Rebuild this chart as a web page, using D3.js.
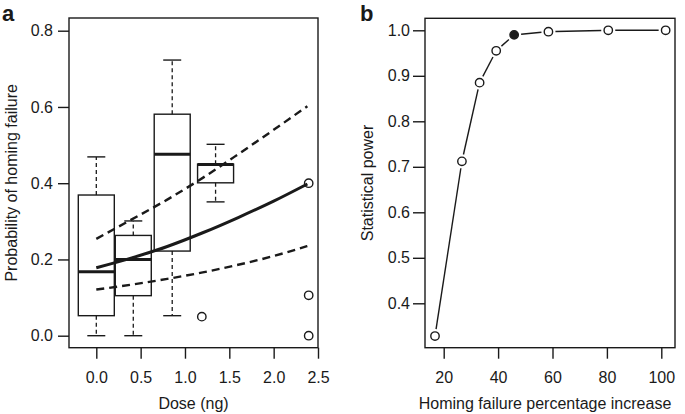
<!DOCTYPE html>
<html><head><meta charset="utf-8">
<script src="https://cdn.jsdelivr.net/npm/d3@7"></script>
<style>
html,body{margin:0;padding:0;background:#fff;}
svg text{font-family:"Liberation Sans",Arial,Helvetica,sans-serif;fill:#1a1a1a;}
</style></head>
<body>
<svg id="c" width="685" height="414"></svg>
<script>
// ---------- Panel a data ----------
const boxDose = [0, 0.417, 0.856, 1.345];
const whiskerLow = [0, 0, 0.0525, 0.351];
const q1 = [0.0525, 0.105, 0.222, 0.401];
const median = [0.168, 0.2, 0.476, 0.449];
const q3 = [0.369, 0.263, 0.581, 0.450];
const whiskerHigh = [0.469, 0.301, 0.723, 0.502];
const outlierDose = [1.19, 2.395, 2.395, 2.395];
const outlierValue = [0.05, 0.40, 0.106, 0.0];
const fitDose = [0, 0.4, 0.8, 1.2, 1.6, 2.0, 2.38];
const fitValue = [0.178, 0.204, 0.234, 0.27, 0.31, 0.353, 0.398];
const upperValue = [0.254, 0.305, 0.357, 0.414, 0.476, 0.54, 0.602];
const lowerValue = [0.121, 0.134, 0.149, 0.166, 0.186, 0.209, 0.235];
const doseTicks = [0, 0.5, 1.0, 1.5, 2.0, 2.5];
const probTicks = [0, 0.2, 0.4, 0.6, 0.8];

// ---------- Panel b data ----------
const percentIncrease = [16.8, 26.7, 33.2, 39.3, 45.9, 58.5, 80.5, 101.6];
const power = [0.328, 0.712, 0.885, 0.955, 0.990, 0.997, 1.0, 1.0];
const highlighted = [false, false, false, false, true, false, false, false];
const pctTicks = [20, 40, 60, 80, 100];
const powerTicks = [0.4, 0.5, 0.6, 0.7, 0.8, 0.9, 1.0];

const svg = d3.select("#c");
const ink = "#1a1a1a";
const FS = 16;

// ---------- Panel a ----------
const A = {l:69, r:318, t:18, b:347.7};
const xA = d3.scaleLinear().domain([0, 2.5]).range([96.3, 318]);
const yA = d3.scaleLinear().domain([0, 0.8]).range([335.7, 30.7]);
const gA = svg.append("g");

gA.append("rect").attr("x",A.l).attr("y",A.t).attr("width",A.r-A.l).attr("height",A.b-A.t)
  .attr("fill","none").attr("stroke",ink).attr("stroke-width",1.4);

const yAxA = gA.append("g").attr("transform",`translate(${A.l},0)`)
  .call(d3.axisLeft(yA).tickValues(probTicks).tickFormat(d3.format(".1f")).tickSize(11).tickPadding(5));
const xAxA = gA.append("g").attr("transform",`translate(0,${A.b})`)
  .call(d3.axisBottom(xA).tickValues(doseTicks).tickFormat(d3.format(".1f")).tickSize(11).tickPadding(12.6));
[yAxA, xAxA].forEach(ax=>{
  ax.select(".domain").remove();
  ax.selectAll("line").attr("stroke",ink).attr("stroke-width",1.4);
  ax.selectAll("text").attr("font-size",FS).attr("fill",ink).style("font-family",'"Liberation Sans",Arial,sans-serif');
});

const bw = 0.406; // box width in dose units
const boxes = boxDose.map((d,i)=>({d, lo:whiskerLow[i], q1:q1[i], med:median[i], q3:q3[i], hi:whiskerHigh[i]}));
const bg = gA.append("g");
boxes.forEach(b=>{
  const x0 = xA(b.d - bw/2), x1 = xA(b.d + bw/2), xc = xA(b.d);
  const cw = (x1-x0)/4;
  // whiskers
  bg.append("line").attr("x1",xc).attr("x2",xc).attr("y1",yA(b.q3)).attr("y2",yA(b.hi))
    .attr("stroke",ink).attr("stroke-width",1.3).attr("stroke-dasharray","4,3");
  bg.append("line").attr("x1",xc).attr("x2",xc).attr("y1",yA(b.q1)).attr("y2",yA(b.lo))
    .attr("stroke",ink).attr("stroke-width",1.3).attr("stroke-dasharray","4,3");
  bg.append("line").attr("x1",xc-cw).attr("x2",xc+cw).attr("y1",yA(b.hi)).attr("y2",yA(b.hi))
    .attr("stroke",ink).attr("stroke-width",1.4);
  bg.append("line").attr("x1",xc-cw).attr("x2",xc+cw).attr("y1",yA(b.lo)).attr("y2",yA(b.lo))
    .attr("stroke",ink).attr("stroke-width",1.4);
  bg.append("rect").attr("x",x0).attr("y",yA(b.q3)).attr("width",x1-x0).attr("height",yA(b.q1)-yA(b.q3))
    .attr("fill","none").attr("stroke",ink).attr("stroke-width",1.4);
  bg.append("line").attr("x1",x0).attr("x2",x1).attr("y1",yA(b.med)).attr("y2",yA(b.med))
    .attr("stroke",ink).attr("stroke-width",3);
});

gA.selectAll("circle.out").data(outlierDose.map((d,i)=>({d,v:outlierValue[i]}))).join("circle")
  .attr("class","out").attr("cx",p=>xA(p.d)).attr("cy",p=>yA(p.v)).attr("r",4.2)
  .attr("fill","#fff").attr("stroke",ink).attr("stroke-width",1.4);

const lineA = d3.line().x(p=>xA(p[0])).y(p=>yA(p[1])).curve(d3.curveMonotoneX);
gA.append("path").attr("d",lineA(fitDose.map((d,i)=>[d,upperValue[i]])))
  .attr("fill","none").attr("stroke",ink).attr("stroke-width",2.4).attr("stroke-dasharray","8,5");
gA.append("path").attr("d",lineA(fitDose.map((d,i)=>[d,lowerValue[i]])))
  .attr("fill","none").attr("stroke",ink).attr("stroke-width",2.4).attr("stroke-dasharray","8,5");
gA.append("path").attr("d",lineA(fitDose.map((d,i)=>[d,fitValue[i]])))
  .attr("fill","none").attr("stroke",ink).attr("stroke-width",3);

gA.append("text").attr("x",2).attr("y",21).attr("font-size",22).attr("font-weight","bold").text("a");
gA.append("text").attr("transform",`translate(17,${(A.t+A.b)/2}) rotate(-90)`).attr("text-anchor","middle")
  .attr("font-size",FS).text("Probability of homing failure");
gA.append("text").attr("x",(A.l+A.r)/2).attr("y",409).attr("text-anchor","middle")
  .attr("font-size",FS).text("Dose (ng)");

// ---------- Panel b ----------
const B = {l:425, r:675, t:18.3, b:347.7};
const xB = d3.scaleLinear().domain([20, 100]).range([443.7, 661.3]);
const yB = d3.scaleLinear().domain([0.4, 1.0]).range([303.3, 30.3]);
const gB = svg.append("g");

gB.append("rect").attr("x",B.l).attr("y",B.t).attr("width",B.r-B.l).attr("height",B.b-B.t)
  .attr("fill","none").attr("stroke",ink).attr("stroke-width",1.4);
const yAxB = gB.append("g").attr("transform",`translate(${B.l},0)`)
  .call(d3.axisLeft(yB).tickValues(powerTicks).tickFormat(d3.format(".1f")).tickSize(12).tickPadding(3));
const xAxB = gB.append("g").attr("transform",`translate(0,${B.b})`)
  .call(d3.axisBottom(xB).tickValues(pctTicks).tickFormat(d3.format("d")).tickSize(11).tickPadding(12.6));
[yAxB, xAxB].forEach(ax=>{
  ax.select(".domain").remove();
  ax.selectAll("line").attr("stroke",ink).attr("stroke-width",1.4);
  ax.selectAll("text").attr("font-size",FS).attr("fill",ink).style("font-family",'"Liberation Sans",Arial,sans-serif');
});

const pts = percentIncrease.map((x,i)=>({x:xB(x), y:yB(power[i]), h:highlighted[i]}));
const gap = 7;
for (let i=0;i<pts.length-1;i++){
  const a=pts[i], b=pts[i+1];
  const dx=b.x-a.x, dy=b.y-a.y, L=Math.hypot(dx,dy);
  if (L <= 2*gap) continue;
  const ux=dx/L, uy=dy/L;
  gB.append("line").attr("x1",a.x+ux*gap).attr("y1",a.y+uy*gap).attr("x2",b.x-ux*gap).attr("y2",b.y-uy*gap)
    .attr("stroke",ink).attr("stroke-width",1.4);
}
gB.selectAll("circle.pt").data(pts).join("circle").attr("class","pt")
  .attr("cx",p=>p.x).attr("cy",p=>p.y).attr("r",4.2)
  .attr("fill",p=>p.h?ink:"#fff").attr("stroke",ink).attr("stroke-width",1.4);

gB.append("text").attr("x",360).attr("y",21).attr("font-size",22).attr("font-weight","bold").text("b");
gB.append("text").attr("transform",`translate(373,${(B.t+B.b)/2}) rotate(-90)`).attr("text-anchor","middle")
  .attr("font-size",FS).text("Statistical power");
gB.append("text").attr("x",545).attr("y",409).attr("text-anchor","middle")
  .attr("font-size",FS).text("Homing failure percentage increase");
</script>
</body></html>
